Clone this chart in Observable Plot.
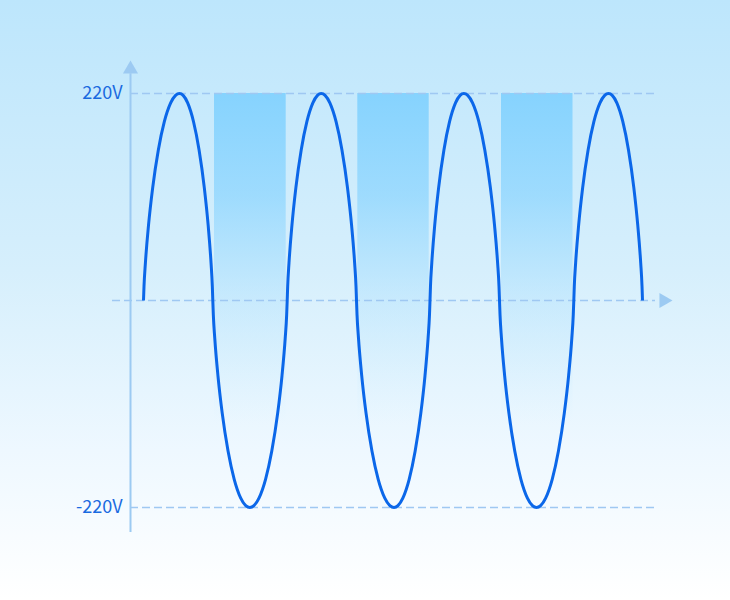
<!DOCTYPE html>
<html>
<head>
<meta charset="utf-8">
<script src="https://cdn.jsdelivr.net/npm/d3@7"></script>
<script src="https://cdn.jsdelivr.net/npm/@observablehq/plot@0.6"></script>
<style>
  html, body { margin: 0; padding: 0; }
  #chart { width: 730px; height: 600px; background: linear-gradient(to bottom, #bde6fc 0%, #d6effc 45%, #eef8ff 75%, #ffffff 100%); }
  #chart svg { display: block; }
</style>
</head>
<body>
<div id="chart"></div>
<script>
// phase in degrees, voltage in V
const wavePhase = [
  0, 1.26, 4.77, 12.55, 23.0, 37.08, 52.07, 67.93, 80.1, 90,
  99.16, 110.41, 125.08, 138.95, 151.98, 161.64, 168.84, 172.08, 173.25,
  174.54, 178.15, 186.15, 196.88, 211.36, 226.77, 243.07, 255.57, 265.75,
  276.04, 288.68, 305.15, 320.73, 335.36, 346.21, 354.29, 357.94, 359.25,
  360.44, 363.75, 371.11, 380.97, 394.27, 408.43, 423.41, 434.9, 444.25,
  453.96, 465.89, 481.44, 496.14, 509.95, 520.19, 527.82, 531.26, 532.5,
  533.81, 537.47, 545.58, 556.45, 571.12, 586.74, 603.26, 615.94, 626.25,
  636.15, 648.32, 664.18, 679.17, 693.25, 703.7, 711.48, 714.99, 716.25,
  717.43, 720.73, 728.04, 737.84, 751.06, 765.14, 780.03, 791.45, 800.75,
  810.57, 822.63, 838.36, 853.23, 867.2, 877.55, 885.27, 888.75, 890.0,
  891.29, 894.9, 902.9, 913.63, 928.11, 943.52, 959.82, 972.32, 982.5,
  992.76, 1005.36, 1021.8, 1037.33, 1051.92, 1062.74, 1070.81, 1074.44, 1075.75,
  1076.96, 1080.35, 1087.85, 1097.92, 1111.49, 1125.94, 1141.23, 1152.96, 1162.5,
  1171.85, 1183.34, 1198.32, 1212.48, 1225.78, 1235.64, 1243.0, 1246.31, 1247.5
];
const waveVolt = [
  0, 15, 40, 80, 120, 160, 190, 210, 218, 220,
  218, 210, 190, 160, 120, 80, 40, 15, 0,
  -15, -40, -80, -120, -160, -190, -210, -218, -220,
  -218, -210, -190, -160, -120, -80, -40, -15, 0,
  15, 40, 80, 120, 160, 190, 210, 218, 220,
  218, 210, 190, 160, 120, 80, 40, 15, 0,
  -15, -40, -80, -120, -160, -190, -210, -218, -220,
  -218, -210, -190, -160, -120, -80, -40, -15, 0,
  15, 40, 80, 120, 160, 190, 210, 218, 220,
  218, 210, 190, 160, 120, 80, 40, 15, 0,
  -15, -40, -80, -120, -160, -190, -210, -218, -220,
  -218, -210, -190, -160, -120, -80, -40, -15, 0,
  15, 40, 80, 120, 160, 190, 210, 218, 220,
  218, 210, 190, 160, 120, 80, 40, 15, 0
];
// shaded bands over the negative half-cycles
const bandStart = [177.5, 535.75, 895];
const bandEnd = [356.75, 714.25, 1073.75];
const bandTop = 220;
const bandBottom = -220;
// tick labels
const tickValues = [220, -220];
const tickLabels = ["220V", "-220V"];
// axis extents
const axisX = -32.5;
const axisYMin = -246.6;
const axisYMax = 241;
const zeroLineStart = -77.5;
const lineEnd = 1280;
const arrowUpY = 245.8;
const arrowRightX = 1300.75;
const labelX = -52.5;

const wave = wavePhase.map((p, i) => ({p, v: waveVolt[i]}));
const bands = bandStart.map((s, i) => ({x1: s, x2: bandEnd[i], y1: bandBottom, y2: bandTop}));
const ticks = tickValues.map((v, i) => ({v, label: tickLabels[i]}));

const dashColor = "#9fc8f2";
const axisColor = "#9ccaf2";
const curveColor = "#0b67e9";
const textColor = "#1a6ae0";

const plot = Plot.plot({
  width: 730,
  height: 600,
  style: {background: "transparent", overflow: "visible"},
  x: {domain: [0, 1247.5], range: [143, 642], axis: null},
  y: {domain: [-220, 220], range: [507, 93], axis: null},
  marks: [
    Plot.rect(bands, {x1: "x1", x2: "x2", y1: "y1", y2: "y2", fill: "url(#bandGrad)"}),
    Plot.ruleY(tickValues, {x1: axisX, x2: lineEnd, stroke: dashColor, strokeWidth: 1.5, strokeDasharray: "8,4"}),
    Plot.ruleY([0], {x1: zeroLineStart, x2: lineEnd, stroke: dashColor, strokeWidth: 1.5, strokeDasharray: "8,4"}),
    Plot.ruleX([axisX], {y1: axisYMin, y2: axisYMax, stroke: axisColor, strokeWidth: 2}),
    Plot.dot([{x: axisX, y: arrowUpY}], {x: "x", y: "y", symbol: "triangle", r: 5.6, fill: axisColor, stroke: "none"}),
    Plot.dot([{x: arrowRightX, y: 0}], {x: "x", y: "y", symbol: "triangle", r: 5.6, rotate: 90, fill: axisColor, stroke: "none"}),
    Plot.line(wave, {x: "p", y: "v", curve: "monotone-x", stroke: curveColor, strokeWidth: 3, strokeLinecap: "butt"}),
    Plot.text(ticks, {x: labelX, y: "v", text: "label", textAnchor: "end", fill: textColor, fontSize: 18, fontFamily: "Noto Sans CJK SC, Noto Sans, sans-serif"})
  ]
});

d3.select(plot).insert("defs", ":first-child").html(`
  <linearGradient id="bandGrad" x1="0" y1="0" x2="0" y2="1">
    <stop offset="0" stop-color="#86d3fe" stop-opacity="1"/>
    <stop offset="0.25" stop-color="#92d7fe" stop-opacity="0.8"/>
    <stop offset="0.5" stop-color="#a6defe" stop-opacity="0.35"/>
    <stop offset="0.8" stop-color="#c4eaff" stop-opacity="0"/>
  </linearGradient>`);

document.getElementById("chart").appendChild(plot);
</script>
</body>
</html>
